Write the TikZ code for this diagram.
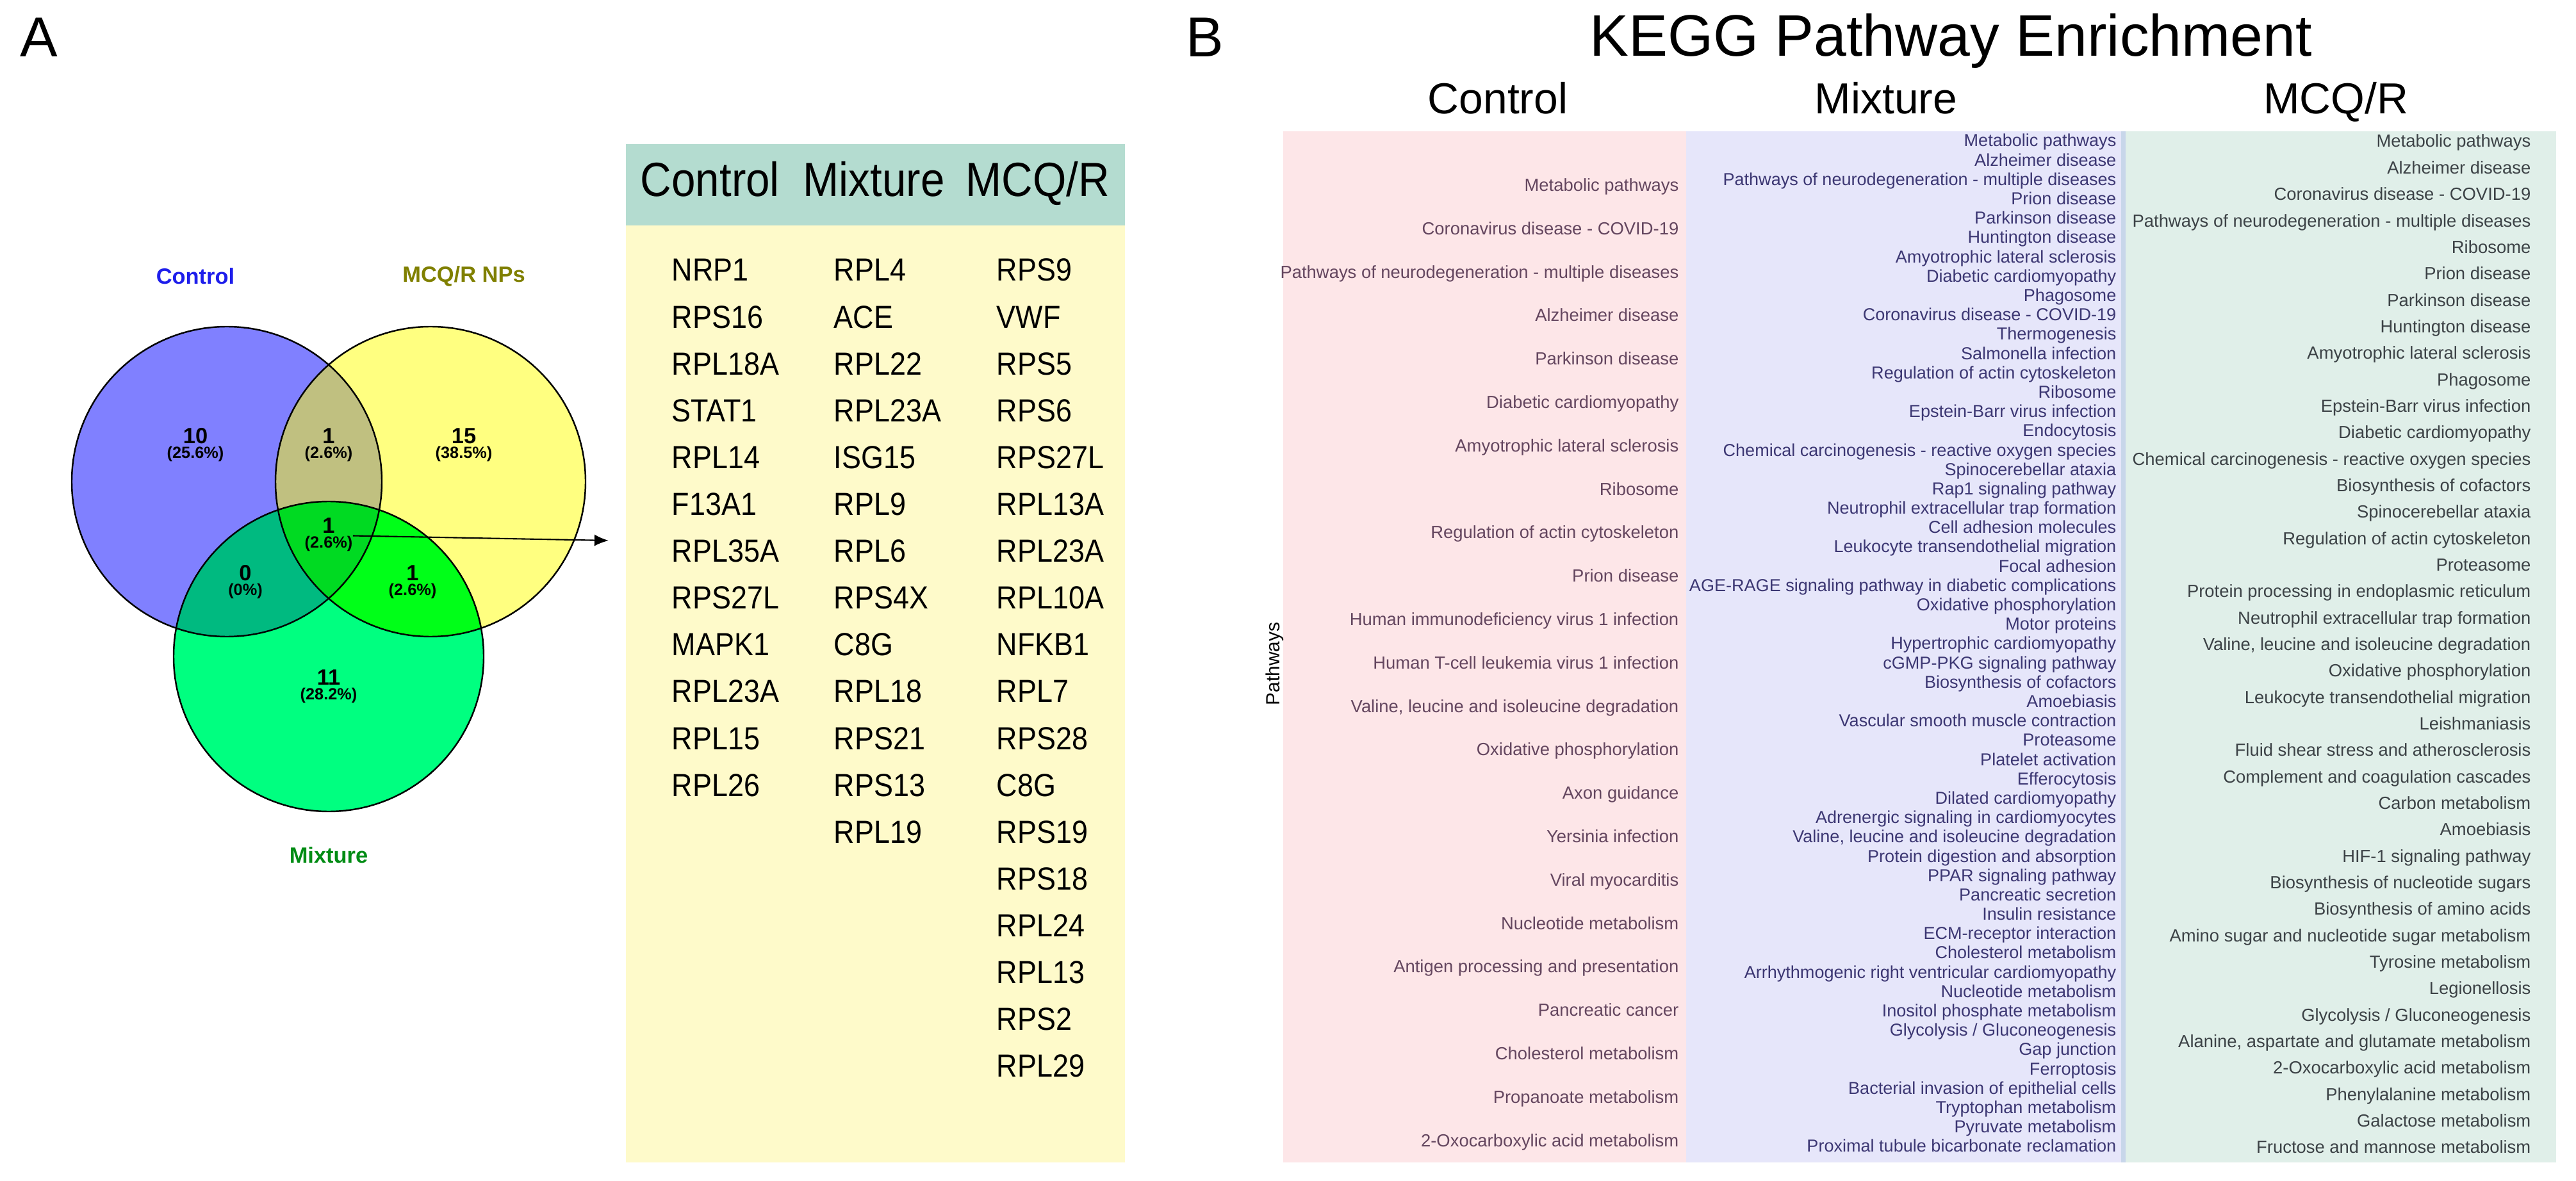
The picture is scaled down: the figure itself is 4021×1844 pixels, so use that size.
\documentclass[tikz,border=0pt]{standalone}
\usepackage{fontspec}
\setmainfont{Liberation Sans}
\newfontfamily\tablefont[FakeStretch=0.9]{Liberation Sans}
\usetikzlibrary{arrows.meta}
\definecolor{ctrlfill}{RGB}{128,128,255}
\definecolor{mcqfill}{RGB}{255,255,128}
\definecolor{mixfill}{RGB}{0,255,128}
\definecolor{ctrlmcqfill}{RGB}{192,192,128}
\definecolor{ctrlmixfill}{RGB}{0,186,128}
\definecolor{mcqmixfill}{RGB}{0,255,24}
\definecolor{allfill}{RGB}{0,218,34}
\definecolor{ctrltext}{RGB}{30,30,235}
\definecolor{mcqtext}{RGB}{128,128,0}
\definecolor{mixtext}{RGB}{0,140,20}
\definecolor{headfill}{RGB}{180,220,208}
\definecolor{bodyfill}{RGB}{254,250,202}
\definecolor{ctrlbg}{RGB}{253,230,232}
\definecolor{mixbg}{RGB}{230,230,250}
\definecolor{stripbg}{RGB}{200,214,234}
\definecolor{mcqbg}{RGB}{224,239,233}
\definecolor{ctrlpath}{RGB}{100,70,95}
\definecolor{mixpath}{RGB}{60,55,115}
\definecolor{mcqpath}{RGB}{60,66,70}
\tikzset{panel/.style={anchor=base west,inner sep=0pt,font=\fontsize{25}{30}\selectfont}}
\tikzset{venntitle/.style={color=#1,inner sep=0pt,font=\fontsize{9.8}{11}\selectfont\bfseries},venntitle/.default=black}
\tikzset{regioncount/.style={inner sep=0pt,font=\fontsize{9.8}{11}\selectfont\bfseries}}
\tikzset{regionpct/.style={inner sep=0pt,font=\fontsize{7.2}{8}\selectfont\bfseries}}
\tikzset{rim/.style={draw=black,line width=0.7pt}}
\tikzset{colhead/.style={anchor=base west,inner sep=0pt,font=\tablefont\fontsize{21.3}{24}\selectfont}}
\tikzset{gene/.style={anchor=base west,inner sep=0pt,font=\tablefont\fontsize{14.2}{16}\selectfont}}
\tikzset{keggcol/.style={anchor=base,inner sep=0pt,font=\fontsize{19.3}{22}\selectfont}}
\tikzset{pathway/.style={anchor=base east,inner sep=0pt,color=#1,font=\fontsize{7.8}{9}\selectfont},pathway/.default=black}

\begin{document}
\begin{tikzpicture}[x=0.1mm,y=-0.1mm]
  \useasboundingbox (0,0) rectangle (4021,1844);

  % panel A: venn diagram
  \node [panel] (labA) at (31,89) {A};
  \coordinate (ctrlc) at (354,752);
  \coordinate (mcqc) at (672,752);
  \coordinate (mixc) at (513,1025);
  \fill [ctrlfill] (ctrlc) circle (242);
  \fill [mcqfill] (mcqc) circle (242);
  \fill [mixfill] (mixc) circle (242);
  \begin{scope}
    \clip (ctrlc) circle (242);
    \fill [ctrlmcqfill] (mcqc) circle (242);
    \fill [ctrlmixfill] (mixc) circle (242);
  \end{scope}
  \begin{scope}
    \clip (mcqc) circle (242);
    \fill [mcqmixfill] (mixc) circle (242);
  \end{scope}
  \begin{scope}
    \clip (ctrlc) circle (242);
    \clip (mcqc) circle (242);
    \fill [allfill] (mixc) circle (242);
  \end{scope}
  \draw [rim] (ctrlc) circle (242);
  \draw [rim] (mcqc) circle (242);
  \draw [rim] (mixc) circle (242);

  \node [venntitle=ctrltext] (vctrl) at (305,431) {Control};
  \node [venntitle=mcqtext] (vmcq) at (724,431) {MCQ/R NPs};
  \node [venntitle=mixtext] (vmix) at (513,1335) {Mixture};

  \foreach \cnt/\pct/\x/\y/\nm in {10/25.6/305/681/ctrl, 1/2.6/513/681/cm, 15/38.5/724/681/mcq,
      1/2.6/513/821/all, 0/0/383/895/cx, 1/2.6/644/895/mx, 11/28.2/513/1058/mix}
  {
    \node [regioncount] (cnt\nm) at (\x,\y) {\cnt};
    \node [regionpct] (pct\nm) at (\x,\y+28) {(\pct\%)};
  }

  \coordinate (genetip) at (950,844);
  \draw [line width=0.6pt,-{Latex[length=6.3pt,width=5.2pt]}] (pctall.north east) -- (genetip);

  % shared genes table
  \fill [headfill] (977,225) rectangle (1756,352);
  \fill [bodyfill] (977,352) rectangle (1756,1815);
  \node [colhead] (thctrl) at (999,307) {Control};
  \node [colhead] (thmix) at (1253,307) {Mixture};
  \node [colhead] (thmcq) at (1507,307) {MCQ/R};

  \foreach \g [count=\i] in {NRP1,RPS16,RPL18A,STAT1,RPL14,F13A1,RPL35A,RPS27L,MAPK1,RPL23A,RPL15,RPL26}
    \node [gene] (ctrlg\i) at (1048,{439+(\i-1)*73.1}) {\g};
  \foreach \g [count=\i] in {RPL4,ACE,RPL22,RPL23A,ISG15,RPL9,RPL6,RPS4X,C8G,RPL18,RPS21,RPS13,RPL19}
    \node [gene] (mixg\i) at (1301,{439+(\i-1)*73.1}) {\g};
  \foreach \g [count=\i] in {RPS9,VWF,RPS5,RPS6,RPS27L,RPL13A,RPL23A,RPL10A,NFKB1,RPL7,RPS28,C8G,
      RPS19,RPS18,RPL24,RPL13,RPS2,RPL29}
    \node [gene] (mcqg\i) at (1555,{439+(\i-1)*73.1}) {\g};

  % panel B: KEGG pathways
  \node [panel] (labB) at (1851,89) {B};
  \node [anchor=base,inner sep=0pt,font=\fontsize{26}{30}\selectfont] (kegg) at (3045,88) {KEGG Pathway Enrichment};
  \node [keggcol] (kctrl) at (2338,178) {Control};
  \node [keggcol] (kmix) at (2944,178) {Mixture};
  \node [keggcol] (kmcq) at (3646,178) {MCQ/R};

  \fill [ctrlbg] (2003,205) rectangle (2632,1815);
  \fill [mixbg] (2632,205) rectangle (3311,1815);
  \fill [stripbg] (3311,205) rectangle (3318,1815);
  \fill [mcqbg] (3318,205) rectangle (3990,1815);

  \node [rotate=90,anchor=base west,inner sep=0pt,font=\fontsize{8.5}{10}\selectfont] (axlab) at (1997,1102) {Pathways};

  \foreach \p [count=\i] in {Metabolic pathways,Coronavirus disease - COVID-19,
      Pathways of neurodegeneration - multiple diseases,Alzheimer disease,Parkinson disease,
      Diabetic cardiomyopathy,Amyotrophic lateral sclerosis,Ribosome,Regulation of actin cytoskeleton,
      Prion disease,Human immunodeficiency virus 1 infection,Human T-cell leukemia virus 1 infection,
      {Valine, leucine and isoleucine degradation},Oxidative phosphorylation,Axon guidance,
      Yersinia infection,Viral myocarditis,Nucleotide metabolism,Antigen processing and presentation,
      Pancreatic cancer,Cholesterol metabolism,Propanoate metabolism,2-Oxocarboxylic acid metabolism}
    \node [pathway=ctrlpath] (ctrlp\i) at (2621,{298.5+(\i-1)*67.8}) {\p};

  \foreach \p [count=\i] in {Metabolic pathways,Alzheimer disease,
      Pathways of neurodegeneration - multiple diseases,Prion disease,Parkinson disease,
      Huntington disease,Amyotrophic lateral sclerosis,Diabetic cardiomyopathy,Phagosome,
      Coronavirus disease - COVID-19,Thermogenesis,Salmonella infection,
      Regulation of actin cytoskeleton,Ribosome,Epstein-Barr virus infection,Endocytosis,
      Chemical carcinogenesis - reactive oxygen species,Spinocerebellar ataxia,
      Rap1 signaling pathway,Neutrophil extracellular trap formation,Cell adhesion molecules,
      Leukocyte transendothelial migration,Focal adhesion,
      AGE-RAGE signaling pathway in diabetic complications,Oxidative phosphorylation,
      Motor proteins,Hypertrophic cardiomyopathy,cGMP-PKG signaling pathway,
      Biosynthesis of cofactors,Amoebiasis,Vascular smooth muscle contraction,Proteasome,
      Platelet activation,Efferocytosis,Dilated cardiomyopathy,
      Adrenergic signaling in cardiomyocytes,{Valine, leucine and isoleucine degradation},
      Protein digestion and absorption,PPAR signaling pathway,Pancreatic secretion,
      Insulin resistance,ECM-receptor interaction,Cholesterol metabolism,
      Arrhythmogenic right ventricular cardiomyopathy,Nucleotide metabolism,
      Inositol phosphate metabolism,Glycolysis / Gluconeogenesis,Gap junction,Ferroptosis,
      Bacterial invasion of epithelial cells,Tryptophan metabolism,Pyruvate metabolism,
      Proximal tubule bicarbonate reclamation}
    \node [pathway=mixpath,font=\fontsize{7.7}{9}\selectfont] (mixp\i) at (3304,{229+(\i-1)*30.19}) {\p};

  \foreach \p [count=\i] in {Metabolic pathways,Alzheimer disease,Coronavirus disease - COVID-19,
      Pathways of neurodegeneration - multiple diseases,Ribosome,Prion disease,Parkinson disease,
      Huntington disease,Amyotrophic lateral sclerosis,Phagosome,Epstein-Barr virus infection,
      Diabetic cardiomyopathy,Chemical carcinogenesis - reactive oxygen species,
      Biosynthesis of cofactors,Spinocerebellar ataxia,Regulation of actin cytoskeleton,
      Proteasome,Protein processing in endoplasmic reticulum,
      Neutrophil extracellular trap formation,{Valine, leucine and isoleucine degradation},
      Oxidative phosphorylation,Leukocyte transendothelial migration,Leishmaniasis,
      Fluid shear stress and atherosclerosis,Complement and coagulation cascades,
      Carbon metabolism,Amoebiasis,HIF-1 signaling pathway,Biosynthesis of nucleotide sugars,
      Biosynthesis of amino acids,Amino sugar and nucleotide sugar metabolism,
      Tyrosine metabolism,Legionellosis,Glycolysis / Gluconeogenesis,
      {Alanine, aspartate and glutamate metabolism},2-Oxocarboxylic acid metabolism,
      Phenylalanine metabolism,Galactose metabolism,Fructose and mannose metabolism}
    \node [pathway=mcqpath] (mcqp\i) at (3951,{230+(\i-1)*41.34}) {\p};
\end{tikzpicture}
\end{document}
